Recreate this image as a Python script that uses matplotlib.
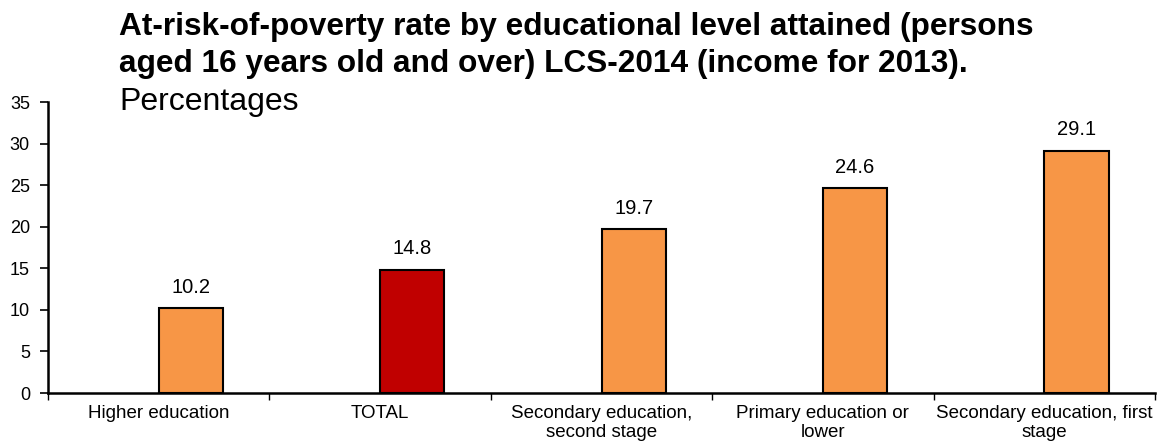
import matplotlib
matplotlib.use("Agg")
import matplotlib.pyplot as plt
import numpy as np

plt.rcParams['font.family'] = ['Liberation Sans', 'DejaVu Sans']

categories = ["Higher education", "TOTAL", "Secondary education,\nsecond stage",
              "Primary education or\nlower", "Secondary education, first\nstage"]
values = [10.2, 14.8, 19.7, 24.6, 29.1]
colors = ["#F79646", "#C00000", "#F79646", "#F79646", "#F79646"]
yticks = [0, 5, 10, 15, 20, 25, 30, 35]

fig = plt.figure(figsize=(11.57, 4.45), dpi=100)
ax = fig.add_axes([48/1157, 1-393/445, (1155-48)/1157, (393-102)/445])

x = np.arange(len(categories))
width = 0.29
bars = ax.bar(x, values, width=width, align='edge', color=colors,
              edgecolor='black', linewidth=1.5, zorder=3)
for xi, v in zip(x, values):
    ax.text(xi + width/2, v + 1.4, f"{v:.1f}", ha='center', va='bottom', fontsize=14.5)

ax.set_xlim(-0.5, len(categories) - 0.5)
ax.set_ylim(0, 35)
ax.set_yticks(yticks)
ax.tick_params(axis='y', labelsize=13, length=6, width=1.2, direction='out', pad=7)
ax.set_xticks(x)
ax.set_xticklabels(categories, fontsize=13.5, linespacing=1.12)
ax.tick_params(axis='x', length=0, pad=9)
ax.set_xticks(np.arange(len(categories) + 1) - 0.5, minor=True)
ax.tick_params(axis='x', which='minor', length=5, width=1, direction='out')
for s in ['top', 'right']:
    ax.spines[s].set_visible(False)
ax.spines['left'].set_linewidth(1.8)
ax.spines['bottom'].set_linewidth(1.8)

fig.text(119/1157, 1-35/445,
         "At-risk-of-poverty rate by educational level attained (persons",
         fontsize=22.8, fontweight='bold', ha='left', va='baseline')
fig.text(119/1157, 1-72/445,
         "aged 16 years old and over) LCS-2014 (income for 2013).",
         fontsize=22.8, fontweight='bold', ha='left', va='baseline')
fig.text(119/1157, 1-110/445, "Percentages", fontsize=23, ha='left', va='baseline')

fig.savefig("out.png", dpi=100)
